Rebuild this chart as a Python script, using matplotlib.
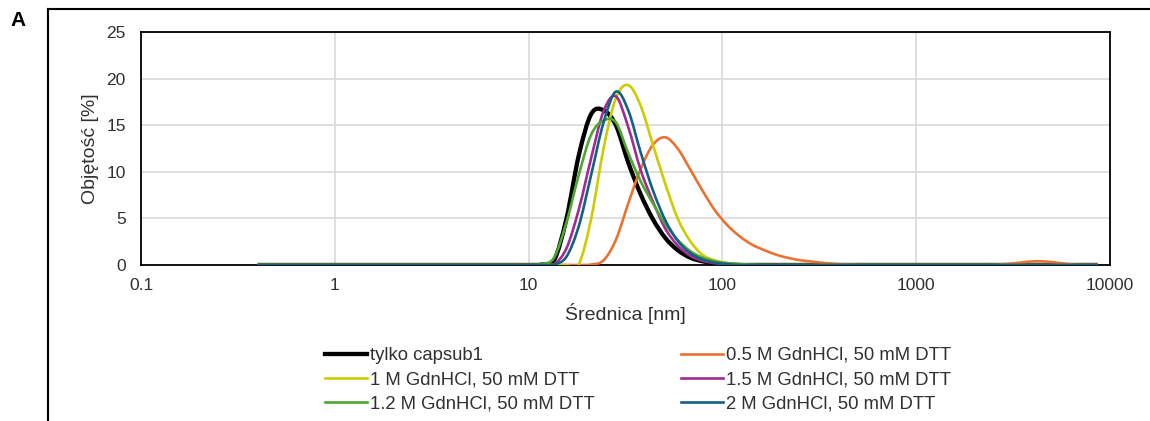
import numpy as np
import matplotlib
matplotlib.use("Agg")
import matplotlib.pyplot as plt
from matplotlib.lines import Line2D
from matplotlib.path import Path
from matplotlib.patches import PathPatch

plt.rcParams['font.family'] = ['Liberation Sans', 'DejaVu Sans']

# Size bins (nm)
sizes_nm = [0.4, 0.4632, 0.5365, 0.6213, 0.7195, 0.8332, 0.9649, 1.117, 1.294, 1.499,
            1.736, 2.010, 2.328, 2.696, 3.122, 3.615, 4.187, 4.849, 5.615, 6.503,
            7.531, 8.721, 10.10, 11.70, 13.54, 15.69, 18.17, 21.04, 24.36, 28.21,
            32.67, 37.84, 43.82, 50.75, 58.77, 68.06, 78.82, 91.28, 105.7, 122.4,
            141.8, 164.2, 190.1, 220.2, 255.0, 295.3, 342.0, 396.1, 458.7, 531.2,
            615.1, 712.4, 825.0, 955.4, 1106, 1281, 1484, 1718, 1990, 2305,
            2669, 3091, 3580, 4145, 4801, 5560, 6439, 7456, 8635]

capsub1 = [0, 0, 0, 0, 0, 0, 0, 0, 0, 0,
           0, 0, 0, 0, 0, 0, 0, 0, 0, 0,
           0, 0, 0, 0.05, 0.5, 5.0, 11.8, 16.2, 16.6, 15.0,
           11.0, 7.6, 4.9, 2.9, 1.6, 0.8, 0.4, 0.2, 0.08, 0,
           0, 0, 0, 0, 0, 0, 0, 0, 0, 0,
           0, 0, 0, 0, 0, 0, 0, 0, 0, 0,
           0, 0, 0, 0, 0, 0, 0, 0, 0]

gdn_05 = [0, 0, 0, 0, 0, 0, 0, 0, 0, 0,
          0, 0, 0, 0, 0, 0, 0, 0, 0, 0,
          0, 0, 0, 0, 0, 0, 0, 0.05, 0.5, 2.7,
          6.6, 10.3, 12.9, 13.7, 12.5, 10.3, 8.0, 5.9, 4.3, 3.1,
          2.2, 1.6, 1.1, 0.75, 0.5, 0.35, 0.2, 0.1, 0.05, 0,
          0, 0, 0, 0, 0, 0, 0, 0, 0, 0,
          0.05, 0.15, 0.3, 0.4, 0.35, 0.2, 0.05, 0, 0]

gdn_1 = [0, 0, 0, 0, 0, 0, 0, 0, 0, 0,
         0, 0, 0, 0, 0, 0, 0, 0, 0, 0,
         0, 0, 0, 0, 0, 0, 0.1, 5.0, 12.5, 17.9,
         19.3, 17.1, 12.9, 8.7, 5.0, 2.6, 1.1, 0.5, 0.2, 0.08,
         0, 0, 0, 0, 0, 0, 0, 0, 0, 0,
         0, 0, 0, 0, 0, 0, 0, 0, 0, 0,
         0, 0, 0, 0, 0, 0, 0, 0, 0]

gdn_15 = [0, 0, 0, 0, 0, 0, 0, 0, 0, 0,
          0, 0, 0, 0, 0, 0, 0, 0, 0, 0,
          0, 0, 0, 0, 0.1, 1.8, 6.0, 11.5, 16.5, 18.1,
          14.8, 10.2, 6.8, 3.9, 2.1, 1.0, 0.45, 0.2, 0.08, 0,
          0, 0, 0, 0, 0, 0, 0, 0, 0, 0,
          0, 0, 0, 0, 0, 0, 0, 0, 0, 0,
          0, 0, 0, 0, 0, 0, 0, 0, 0]

gdn_12 = [0, 0, 0, 0, 0, 0, 0, 0, 0, 0,
          0, 0, 0, 0, 0, 0, 0, 0, 0, 0,
          0, 0, 0, 0.1, 0.8, 4.6, 9.7, 14.0, 15.5, 15.3,
          12.0, 9.0, 6.6, 4.4, 2.7, 1.5, 0.8, 0.4, 0.2, 0.1,
          0.05, 0, 0, 0, 0, 0, 0, 0, 0, 0,
          0, 0, 0, 0, 0, 0, 0, 0, 0, 0,
          0, 0, 0, 0, 0, 0, 0, 0, 0]

gdn_2 = [0, 0, 0, 0, 0, 0, 0, 0, 0, 0,
         0, 0, 0, 0, 0, 0, 0, 0, 0, 0,
         0, 0, 0, 0, 0.05, 0.9, 4.2, 9.7, 15.3, 18.6,
         16.6, 12.1, 8.0, 4.8, 2.6, 1.3, 0.6, 0.25, 0.1, 0,
         0, 0, 0, 0, 0, 0, 0, 0, 0, 0,
         0, 0, 0, 0, 0, 0, 0, 0, 0, 0,
         0, 0, 0, 0, 0, 0, 0, 0, 0]

series_labels = ["tylko capsub1", "0.5 M GdnHCl, 50 mM DTT", "1 M GdnHCl, 50 mM DTT",
                 "1.5 M GdnHCl, 50 mM DTT", "1.2 M GdnHCl, 50 mM DTT", "2 M GdnHCl, 50 mM DTT"]
series_values = [capsub1, gdn_05, gdn_1, gdn_15, gdn_12, gdn_2]
series_colors = ["#000000", "#E97132", "#CCCC00", "#A02B93", "#4EA72E", "#156082"]
series_widths = [3.1, 1.9, 1.9, 1.9, 1.9, 1.9]

x_ticks = [0.1, 1, 10, 100, 1000, 10000]
x_tick_labels = ["0.1", "1", "10", "100", "1000", "10000"]
y_ticks = [0, 5, 10, 15, 20, 25]

text_color = "#303030"


def smoothed_path(xs, ys):
    """Excel-like smoothed line: Catmull-Rom Bezier segments (log-x space)."""
    lx = np.log10(np.asarray(xs, dtype=float))
    y = np.asarray(ys, dtype=float)
    n = len(lx)
    verts = [(xs[0], y[0])]
    codes = [Path.MOVETO]
    for i in range(n - 1):
        a = i - 1 if i > 0 else i
        d = i + 2 if i + 2 < n else i + 1
        c1x = lx[i] + (lx[i + 1] - lx[a]) / 6.0
        c1y = y[i] + (y[i + 1] - y[a]) / 6.0
        c2x = lx[i + 1] - (lx[d] - lx[i]) / 6.0
        c2y = y[i + 1] - (y[d] - y[i]) / 6.0
        verts += [(10 ** c1x, c1y), (10 ** c2x, c2y), (xs[i + 1], y[i + 1])]
        codes += [Path.CURVE4] * 3
    return Path(verts, codes)


fig = plt.figure(figsize=(11.5, 4.21), dpi=100)
ax = fig.add_axes([141 / 1150, 1 - 265 / 421, (1110 - 141) / 1150, (265 - 32) / 421])

handles = []
for vals, lab, col, lw in zip(series_values, series_labels, series_colors, series_widths):
    patch = PathPatch(smoothed_path(sizes_nm, vals), facecolor='none', edgecolor=col,
                      lw=lw, joinstyle='round', capstyle='butt', zorder=3)
    ax.add_patch(patch)
    handles.append(Line2D([], [], color=col, lw=lw, label=lab))

ax.set_xscale('log')
ax.set_xlim(0.1, 10000)
ax.set_ylim(0, 25)
ax.set_xticks(x_ticks)
ax.set_xticklabels(x_tick_labels)
ax.xaxis.set_minor_locator(matplotlib.ticker.NullLocator())
ax.set_yticks(y_ticks)
ax.tick_params(axis='both', length=0, labelsize=12.5, colors=text_color)
ax.tick_params(axis='x', pad=9)
ax.tick_params(axis='y', pad=11)
ax.grid(True, color="#D9D9D9", lw=1.2, zorder=0)
ax.set_axisbelow(True)
for sp in ax.spines.values():
    sp.set_color("#000000")
    sp.set_linewidth(1.3)

ax.set_xlabel("Średnica [nm]", fontsize=14, color=text_color, labelpad=7.5)
ax.set_ylabel("Objętość [%]", fontsize=14, color=text_color, labelpad=5)

# Excel-style row-wise legend order in two columns
order = [0, 2, 4, 1, 3, 5]
leg = fig.legend([handles[i] for i in order], [series_labels[i] for i in order],
                 ncol=2, loc='upper left', bbox_to_anchor=(325 / 1150, 1 - 347 / 421),
                 frameon=False, fontsize=13.3, handlelength=2.27, handletextpad=0.15,
                 columnspacing=4.7, labelspacing=0.38, borderaxespad=0, borderpad=0)
for t in leg.get_texts():
    t.set_color(text_color)

fig.text(10 / 1150, 1 - 20 / 421, "A", fontsize=15, fontweight='bold', va='center', ha='left')

# Outer panel frame (top and left edges)
fig.add_artist(Line2D([48 / 1150, 1.0], [1 - 9 / 421, 1 - 9 / 421], color='black', lw=1.5,
                      transform=fig.transFigure))
fig.add_artist(Line2D([48 / 1150, 48 / 1150], [0, 1 - 9 / 421], color='black', lw=1.5,
                      transform=fig.transFigure))

fig.savefig("out.png", dpi=100)
